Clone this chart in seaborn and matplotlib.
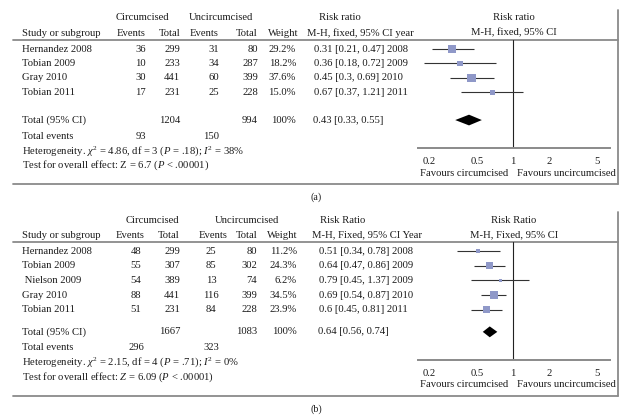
import matplotlib
matplotlib.use("Agg")
import matplotlib.pyplot as plt
import seaborn as sns
import numpy as np
import pandas as pd

# ---- data, panel (a)
a_study = ["Hernandez 2008", "Tobian 2009", "Gray 2010", "Tobian 2011"]
a_circ_events = [36, 10, 30, 17]
a_circ_total = [299, 233, 441, 231]
a_unc_events = [31, 34, 60, 25]
a_unc_total = [80, 287, 399, 228]
a_weight = [29.2, 18.2, 37.6, 15.0]
a_rr = [0.31, 0.36, 0.45, 0.67]
a_lo = [0.21, 0.18, 0.30, 0.37]
a_hi = [0.47, 0.72, 0.69, 1.21]
a_year = [2008, 2009, 2010, 2011]
a_total = [1204, 994]
a_total_events = [93, 150]
a_pooled = [0.43, 0.33, 0.55]
a_het = r"Heterogeneity. $\chi^2$ = 4.86, df = 3 ($P$ = .18); $I^2$ = 38%"
a_test = r"Test for overall effect: Z = 6.7 ($P$ < .00001)"

# ---- data, panel (b)
b_study = ["Hernandez 2008", "Tobian 2009", " Nielson 2009", "Gray 2010", "Tobian 2011"]
b_circ_events = [48, 55, 54, 88, 51]
b_circ_total = [299, 307, 389, 441, 231]
b_unc_events = [25, 85, 13, 116, 84]
b_unc_total = [80, 302, 74, 399, 228]
b_weight = [11.2, 24.3, 6.2, 34.5, 23.9]
b_rr = [0.51, 0.64, 0.79, 0.69, 0.60]
b_lo = [0.34, 0.47, 0.45, 0.54, 0.45]
b_hi = [0.78, 0.86, 1.37, 0.87, 0.81]
b_year = [2008, 2009, 2009, 2010, 2011]
b_total = [1667, 1083]
b_total_events = [296, 323]
b_pooled = [0.64, 0.56, 0.74]
b_het = r"Heterogeneity. $\chi^2$ = 2.15, df = 4 ($P$ = .71); $I^2$ = 0%"
b_test = r"Test for overall effect: $Z$ = 6.09 ($P$ < .00001)"

ticks = [0.2, 0.5, 1, 2, 5]

sns.set_theme(style="white")
plt.rcParams["font.family"] = ["Liberation Serif", "DejaVu Serif"]
plt.rcParams["mathtext.fontset"] = "custom"
plt.rcParams["mathtext.rm"] = "Liberation Serif"
plt.rcParams["mathtext.it"] = "Liberation Serif:italic"

W, H = 632, 419
fig = plt.figure(figsize=(W / 100, H / 100), dpi=100)
bg = fig.add_axes([0, 0, 1, 1])
bg.set_xlim(0, W)
bg.set_ylim(H, 0)
bg.axis("off")

FS = 7.7
TXT = "#1c1c1c"
GRAY = "#8a8a8a"
SQ = "#8f98c8"
ONE_PX = 513   # pixel of RR = 1
PPD = 120      # pixels per decade


def fmt(v):
    return f"{v:g}"


def panel(top, dy, gap, cols, study, ce, ct, ue, ut, wt, rr, lo, hi, yr,
          tot, tot_ev, pooled, het, test, hdr, letter):
    n = len(study)
    h1, h2 = top, top + 15
    rule = top + 22
    row0 = top + 31
    tot_y = row0 + (n - 1 + gap) * dy
    ev_y = tot_y + 16
    axis_y = ev_y + 12
    bottom = axis_y + 36
    # column headers
    bg.text(cols["circ"], h1, "Circumcised", ha="center", va="center", fontsize=FS, color=TXT)
    bg.text(cols["unc"], h1, "Uncircumcised", ha="center", va="center", fontsize=FS, color=TXT)
    bg.text(cols["rrh"], h1, hdr[0], ha="center", va="center", fontsize=FS, color=TXT)
    bg.text(514, h1, hdr[0], ha="center", va="center", fontsize=FS, color=TXT)
    bg.text(22, h2, "Study or subgroup", ha="left", va="center", fontsize=FS, color=TXT)
    for key, lab in [("ce", "Events"), ("ct", "Total"), ("ue", "Events"),
                     ("ut", "Total"), ("w", "Weight")]:
        x, ha = cols[key + "h"]
        bg.text(x, h2, lab, ha=ha, va="center", fontsize=FS, color=TXT)
    bg.text(cols["rrl"] - 7, h2, hdr[1], ha="left", va="center", fontsize=FS, color=TXT)
    bg.text(514, h2, hdr[2], ha="center", va="center", fontsize=FS, color=TXT)
    bg.plot([13, 618], [rule, rule], color=GRAY, lw=1.3)
    bg.plot([13, 618], [bottom, bottom], color=GRAY, lw=1.3)
    bg.plot([618, 618], [top - 8, bottom], color=GRAY, lw=1.3)
    # rows
    for i in range(n):
        y = row0 + i * dy
        bg.text(22, y, study[i], ha="left", va="center", fontsize=FS, color=TXT)
        for key, v in [("ce", ce[i]), ("ct", ct[i]), ("ue", ue[i]), ("ut", ut[i])]:
            x, ha = cols[key]
            bg.text(x, y, str(v), ha=ha, va="center", fontsize=FS, color=TXT)
        bg.text(cols["w"], y, f"{wt[i]:.1f}%", ha="right", va="center", fontsize=FS, color=TXT)
        bg.text(cols["rrl"], y, f"{fmt(rr[i])} [{fmt(lo[i])}, {fmt(hi[i])}] {yr[i]}",
                ha="left", va="center", fontsize=FS, color=TXT)
    bg.text(22, tot_y, "Total (95% CI)", ha="left", va="center", fontsize=FS, color=TXT)
    bg.text(cols["ct"][0], tot_y, str(tot[0]), ha=cols["ct"][1], va="center", fontsize=FS, color=TXT)
    bg.text(cols["ut"][0], tot_y, str(tot[1]), ha=cols["ut"][1], va="center", fontsize=FS, color=TXT)
    bg.text(cols["w"], tot_y, "100%", ha="right", va="center", fontsize=FS, color=TXT)
    bg.text(cols["rrl"] - 1, tot_y,
            f"{fmt(pooled[0])} [{fmt(pooled[1])}, {fmt(pooled[2])}]",
            ha="left", va="center", fontsize=FS, color=TXT)
    bg.text(22, ev_y, "Total events", ha="left", va="center", fontsize=FS, color=TXT)
    bg.text(cols["ce"][0], ev_y, str(tot_ev[0]), ha=cols["ce"][1], va="center", fontsize=FS, color=TXT)
    bg.text(cols["ue"][0], ev_y, str(tot_ev[1]), ha=cols["ue"][1], va="center", fontsize=FS, color=TXT)
    bg.text(22, ev_y + 14.5, het, ha="left", va="center", fontsize=FS, color=TXT)
    bg.text(22, ev_y + 29, test, ha="left", va="center", fontsize=FS, color=TXT)
    bg.text(316, bottom + 13, letter, ha="center", va="center", fontsize=FS - 0.5, color=TXT)

    # forest axes
    left_px, right_px = 418, 610
    ax = fig.add_axes([left_px / W, 1 - axis_y / H, (right_px - left_px) / W, (axis_y - rule) / H])
    ax.set_xscale("log")
    ax.set_xlim(10 ** ((left_px - ONE_PX) / PPD), 10 ** ((right_px - ONE_PX) / PPD))
    ax.set_ylim((axis_y - row0) / dy, (rule - row0) / dy)
    ax.patch.set_alpha(0)
    pos = np.arange(n)
    df = pd.DataFrame({"rr": rr, "pos": pos, "w": wt})
    ax.hlines(pos, lo, hi, color="#333333", lw=0.8, zorder=2)
    sns.scatterplot(data=df, x="rr", y="pos", size="w", sizes=(min(wt) * 0.95, max(wt) * 0.95),
                    size_norm=(min(wt), max(wt)), marker="s", color=SQ, linewidth=0,
                    legend=False, ax=ax, zorder=3)
    tp = n - 1 + gap
    ax.fill([pooled[1], pooled[0], pooled[2], pooled[0]], [tp, tp - 0.37, tp, tp + 0.37],
            color="black", lw=0, zorder=3)
    ax.axvline(1, color="#222222", lw=0.8, zorder=1)
    for s in ["top", "left", "right"]:
        ax.spines[s].set_visible(False)
    ax.spines["bottom"].set_color(GRAY)
    ax.spines["bottom"].set_linewidth(1.4)
    ax.set_yticks([])
    ax.set_xticks(ticks)
    ax.set_xticks([], minor=True)
    ax.set_xticklabels([fmt(t) for t in ticks], fontsize=FS, color=TXT)
    ax.tick_params(axis="x", direction="inout", length=6, width=0.9, color="#555555", pad=3.5)
    ax.set_xlabel("")
    ax.set_ylabel("")
    bg.text(ONE_PX - 5, axis_y + 25, "Favours circumcised", ha="right", va="center", fontsize=FS, color=TXT)
    bg.text(ONE_PX + 4, axis_y + 25, "Favours uncircumcised", ha="left", va="center", fontsize=FS, color=TXT)


cols_a = {"circ": 142, "unc": 221, "rrh": 340,
          "ce": (146, "right"), "ct": (180, "right"), "ue": (219, "right"), "ut": (258, "right"),
          "ceh": (146, "right"), "cth": (181, "right"), "ueh": (219, "right"), "uth": (258, "right"),
          "wh": (298, "right"), "w": 296, "rrl": 314}
cols_b = {"circ": 152, "unc": 247, "rrh": 343,
          "ce": (136, "center"), "ct": (180, "right"), "ue": (211, "center"), "ut": (257, "right"),
          "ceh": (130, "center"), "cth": (180, "right"), "ueh": (213, "center"), "uth": (258, "right"),
          "wh": (297, "right"), "w": 297, "rrl": 319}

panel(18, 14.5, 1.9, cols_a, a_study, a_circ_events, a_circ_total, a_unc_events, a_unc_total,
      a_weight, a_rr, a_lo, a_hi, a_year, a_total, a_total_events, a_pooled, a_het, a_test,
      ["Risk ratio", "M-H, fixed, 95% CI year", "M-H, fixed, 95% CI"], "(a)")
panel(220, 14.7, 1.5, cols_b, b_study, b_circ_events, b_circ_total, b_unc_events, b_unc_total,
      b_weight, b_rr, b_lo, b_hi, b_year, b_total, b_total_events, b_pooled, b_het, b_test,
      ["Risk Ratio", "M-H, Fixed, 95% CI Year", "M-H, Fixed, 95% CI"], "(b)")

fig.savefig("out.png", dpi=100)
